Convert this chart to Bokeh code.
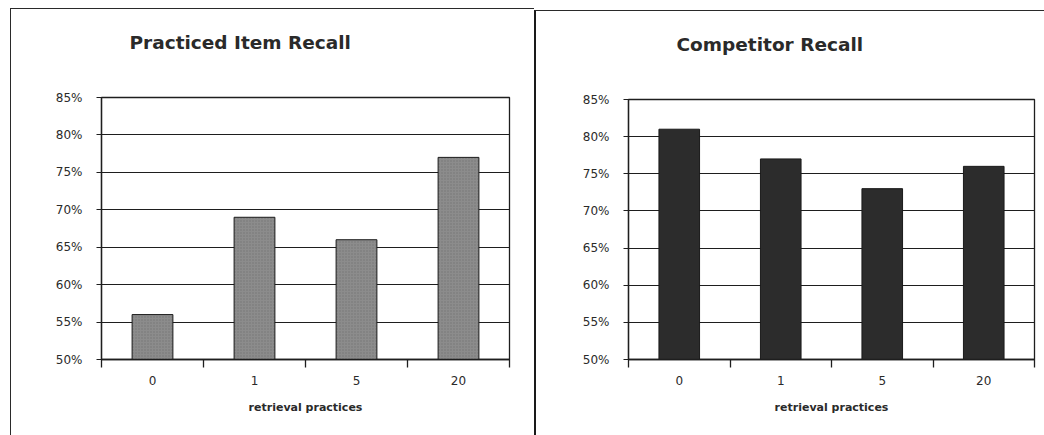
from bokeh.plotting import figure
from bokeh.layouts import row
from bokeh.models import FixedTicker, NumeralTickFormatter, Range1d, Title
from bokeh.embed import file_html
from bokeh.resources import INLINE

# Recall rates by number of retrieval practices
categories = ["0", "1", "5", "20"]
practiced_recall = [0.56, 0.69, 0.66, 0.77]
competitor_recall = [0.81, 0.77, 0.73, 0.76]
y_ticks = [0.50, 0.55, 0.60, 0.65, 0.70, 0.75, 0.80, 0.85]

FONT = "DejaVu Sans"
TEXT = "#2a2a2a"


def bar_panel(title, title_offset, values, fill, hatch, width, height, borders, margin):
    xs = list(range(len(categories)))
    p = figure(
        width=width, height=height, title=None, toolbar_location=None,
        output_backend="svg", x_range=Range1d(-0.5, len(categories) - 0.5),
        y_range=Range1d(y_ticks[0], y_ticks[-1]),
        min_border_left=borders[0], min_border_right=borders[1],
        min_border_top=borders[2], min_border_bottom=borders[3],
        margin=margin,
    )
    p.background_fill_color = "white"
    p.border_fill_color = "white"
    p.outline_line_color = "#1e1e1e"
    p.outline_line_width = 1.3

    p.vbar(x=xs, top=values, bottom=y_ticks[0], width=0.4,
           fill_color=fill, line_color="#1a1a1a", line_width=1,
           hatch_pattern=hatch, hatch_color="#4a4a4a", hatch_alpha=0.35,
           hatch_scale=3, hatch_weight=1)

    # y axis: percentage ticks with short outward marks
    p.yaxis.ticker = FixedTicker(ticks=y_ticks)
    p.yaxis.formatter = NumeralTickFormatter(format="0%")
    p.yaxis.major_tick_out = 5
    p.yaxis.major_tick_in = 0
    p.yaxis.minor_tick_line_color = None
    p.yaxis.major_label_standoff = 14
    p.yaxis.axis_line_color = "#1e1e1e"
    p.yaxis.axis_line_width = 1.3
    p.yaxis.major_tick_line_color = "#1e1e1e"

    # x axis: labels at category centres, tick marks at category boundaries
    bounds = [i - 0.5 for i in range(len(categories) + 1)]
    p.xaxis.ticker = FixedTicker(ticks=xs, minor_ticks=bounds)
    p.xaxis.major_label_overrides = {i: c for i, c in enumerate(categories)}
    p.xaxis.major_tick_line_color = None
    p.xaxis.major_tick_out = 0
    p.xaxis.major_tick_in = 0
    p.xaxis.minor_tick_out = 8
    p.xaxis.minor_tick_in = 0
    p.xaxis.minor_tick_line_color = "#1e1e1e"
    p.xaxis.minor_tick_line_width = 1.3
    p.xaxis.axis_line_color = "#1e1e1e"
    p.xaxis.axis_line_width = 1.3
    p.xaxis.major_label_standoff = 8
    p.xaxis.axis_label = "retrieval practices"
    p.xaxis.axis_label_standoff = 13
    p.xaxis.axis_label_text_font = FONT
    p.xaxis.axis_label_text_font_style = "bold"
    p.xaxis.axis_label_text_font_size = "11px"
    p.xaxis.axis_label_text_color = TEXT

    for ax in (p.xaxis, p.yaxis):
        ax.major_label_text_font = FONT
        ax.major_label_text_font_size = "12px"
        ax.major_label_text_color = TEXT

    p.ygrid.ticker = FixedTicker(ticks=y_ticks)
    p.ygrid.grid_line_color = "#1e1e1e"
    p.ygrid.grid_line_width = 1.2
    p.xgrid.grid_line_color = None

    # blank band between the plot area and the heading
    p.add_layout(Title(text=" ", text_font_size="12px", standoff=9), "above")
    p.add_layout(Title(text=title, text_font=FONT, text_font_style="bold",
                       text_font_size="18.5px", text_color=TEXT, align="left",
                       offset=title_offset, standoff=40), "above")
    return p


left = bar_panel("Practiced Item Recall", 28, practiced_recall, "#8c8c8c", "dot",
                 width=524, height=427, borders=(90, 26, 88, 77),
                 margin=(8, 0, 0, 10))
left.styles = {"border-left": "1.5px solid #2a2a2a", "border-top": "1.5px solid #2a2a2a",
               "box-sizing": "border-box"}

right = bar_panel("Competitor Recall", 48, competitor_recall, "#2c2c2c", None,
                  width=510, height=425, borders=(92, 12, 88, 75),
                  margin=(10, 0, 0, 0))
right.styles = {"border-left": "2.5px solid #1a1a1a", "border-top": "1.5px solid #2a2a2a",
                "box-sizing": "border-box"}

layout = row(left, right, margin=0, spacing=0)
open("out.html", "w").write(file_html(layout, INLINE))
